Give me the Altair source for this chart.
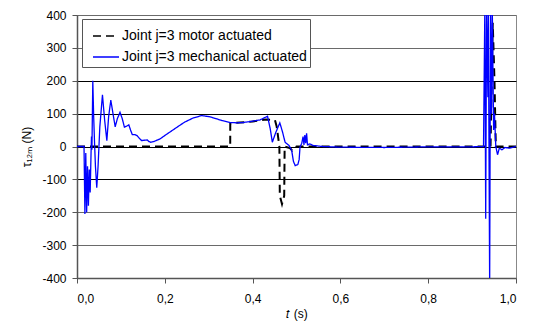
import altair as alt
import pandas as pd

# Joint torque, motor-actuated joint (dashed black)
motor_t = [0.000, 0.349, 0.3491, 0.360, 0.400, 0.430, 0.451, 0.455, 0.461, 0.462, 0.467,
           0.472, 0.473, 0.485, 0.490, 0.495, 0.500, 0.700, 0.900, 0.940, 0.942, 0.947,
           0.951, 0.954, 0.960, 1.000]
motor_v = [0, 0, 69, 72, 76, 82, 80, 60, 0, -150, -175,
           -150, 0, -5, -12, -5, 0, 0, 0, 0, 0, 376,
           200, 0, 0, 0]

# Joint torque, mechanically actuated joint (solid blue)
mech_t = [0.000, 0.016, 0.018, 0.020, 0.022, 0.024, 0.026, 0.028, 0.030, 0.032, 0.033,
          0.034, 0.036, 0.038, 0.040, 0.042, 0.045, 0.048, 0.052, 0.058, 0.063, 0.068,
          0.072, 0.077, 0.082, 0.087, 0.092, 0.098, 0.103, 0.108, 0.113, 0.118, 0.122,
          0.126, 0.132, 0.137, 0.142, 0.147, 0.153, 0.160, 0.164, 0.168, 0.175, 0.189,
          0.205, 0.227, 0.245, 0.265, 0.284, 0.300, 0.311, 0.330, 0.348, 0.365, 0.379,
          0.400, 0.417, 0.434, 0.440, 0.445, 0.452, 0.462, 0.468, 0.474, 0.483, 0.489,
          0.493, 0.497, 0.503, 0.506, 0.508, 0.512, 0.515, 0.517, 0.519, 0.521, 0.523,
          0.525, 0.530, 0.538, 0.560, 0.600, 0.700, 0.800, 0.900, 0.926, 0.929, 0.931,
          0.933, 0.936, 0.937, 0.940, 0.942, 0.944, 0.946, 0.949, 0.951, 0.954, 0.958,
          0.962, 0.968, 0.975, 0.985, 1.000]
mech_v = [0, 0, -205, -20, -200, -60, -180, -70, -140, -20, 30,
          -10, 200, 90, 10, -60, -125, -60, 60, 157, 80, 18,
          90, 141, 100, 60, 85, 104, 85, 59, 62, 66, 50,
          36, 36, 33, 25, 18, 19, 20, 15, 13, 15, 23,
          38, 58, 74, 87, 94, 91, 87, 79, 73, 72, 73,
          77, 81, 92, 55, 13, 40, 72, 45, 13, 3, -12,
          -45, -58, -55, -40, -2, 10, 30, 5, 35, 10, 40,
          5, 8, 3, 0, -2, -3, -1, -1, 0, 420, -220,
          420, 150, 420, -420, 420, 100, 420, 50, 100, 0, -25,
          -5, -10, -3, -5, 0]

series_names = ["Joint j=3 motor actuated", "Joint j=3 mechanical actuated"]
y_ticks = [-400, -300, -200, -100, 0, 100, 200, 300, 400]
x_ticks = [0.0, 0.2, 0.4, 0.6, 0.8, 1.0]

motor_df = pd.DataFrame({"t": motor_t, "v": motor_v, "series": series_names[0]})
mech_df = pd.DataFrame({"t": mech_t, "v": mech_v, "series": series_names[1]})

FONT = "Liberation Sans"

x_enc = alt.X(
    "t:Q",
    scale=alt.Scale(domain=[0, 1], nice=False, zero=False),
    axis=alt.Axis(
        values=x_ticks,
        labelExpr="replace(format(datum.value, '.1f'), '.', ',')",
        title="𝑡 (s)",
        grid=False,
        tickSize=5,
        labelPadding=10,
        titlePadding=4,
    ),
)
y_enc = alt.Y(
    "v:Q",
    scale=alt.Scale(domain=[-400, 400], nice=False),
    axis=alt.Axis(
        values=y_ticks,
        labelExpr="'' + datum.value",
        title="τ₁₂ₘ (N)",
        grid=True,
        gridColor={
            "condition": {"test": "datum.value >= -100 && datum.value <= 200", "value": "#000000"},
            "value": "#6a6a6a",
        },
        tickSize=5,
        labelPadding=6,
        titlePadding=8,
    ),
)
color_enc = alt.Color(
    "series:N",
    scale=alt.Scale(domain=series_names, range=["#000000", "#0000ff"]),
    legend=alt.Legend(
        title=None,
        orient="none",
        legendX=5,
        legendY=4,
        symbolType="stroke",
        symbolSize=676,
        symbolStrokeWidth=1.5,
        symbolOffset=7,
        labelOffset=2,
        rowPadding=0,
        padding=3,
        fillColor="white",
        strokeColor="#555555",
        labelFontSize=14,
        labelFont=FONT,
        labelColor="#000000",
        labelLimit=400,
    ),
)
dash_enc = alt.StrokeDash(
    "series:N",
    scale=alt.Scale(domain=series_names, range=[[8, 5], [1, 0]]),
    legend=alt.Legend(title=None, orient="none", legendX=5, legendY=4),
)

motor_line = (
    alt.Chart(motor_df)
    .mark_line(strokeWidth=2, clip=True)
    .encode(x=x_enc, y=y_enc, color=color_enc, strokeDash=dash_enc, order="t:Q")
)
mech_line = (
    alt.Chart(mech_df)
    .mark_line(strokeWidth=1.3, clip=True)
    .encode(x=x_enc, y=y_enc, color=color_enc, strokeDash=dash_enc, order="t:Q")
)

chart = (
    alt.layer(motor_line, mech_line)
    .properties(
        width=439,
        height=263,
        autosize=alt.AutoSizeParams(type="none"),
        padding={"left": 77, "top": 15, "right": 19, "bottom": 54},
        background="white",
    )
    .configure_view(stroke="#888888", strokeWidth=1)
    .configure_axis(
        labelFont=FONT,
        titleFont=FONT,
        labelFontSize=12,
        titleFontSize=12,
        labelColor="#000000",
        titleColor="#000000",
        titleFontWeight="normal",
        domainColor="#555555",
        domainWidth=1.5,
        tickColor="#555555",
        gridWidth=1,
    )
)

chart.save("out.html", embed_options={"renderer": "svg", "actions": False})
